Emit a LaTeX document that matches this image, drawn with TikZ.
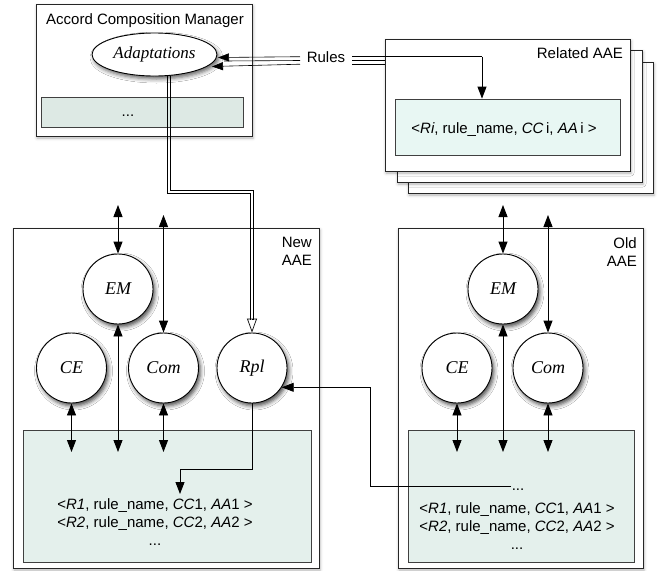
\documentclass[tikz,border=0pt]{standalone}
\usepackage{fontspec}
\setmainfont{Liberation Sans}
\newfontfamily\lserif{Liberation Serif}
\usetikzlibrary{arrows.meta,shapes.geometric,shadows.blur}
\definecolor{accgreen}{RGB}{221,233,228}
\definecolor{relgreen}{RGB}{232,247,243}
\definecolor{aaegreen}{RGB}{228,240,236}
\begin{document}
\begin{tikzpicture}[x=1pt,y=-1pt,font=\fontsize{15}{18}\selectfont,
  outer/.style={draw=black!85,fill=white,line width=0.8pt,
    blur shadow={shadow xshift=1pt,shadow yshift=-2pt,shadow blur radius=3pt,shadow opacity=30}},
  inbox/.style={draw=black!75,line width=0.8pt},
  proc/.style={circle,draw=black,fill=white,line width=0.9pt,minimum size=70pt,inner sep=0pt,
    font=\fontsize{18}{21}\selectfont\lserif\itshape,
    blur shadow={shadow xshift=2pt,shadow yshift=-3pt,shadow blur radius=4pt,shadow opacity=70}},
  txt/.style={inner sep=0pt,anchor=base},
  conn/.style={line width=0.9pt,draw=black},
  arr/.style={conn,-{Triangle[length=12pt,width=9pt]}},
  darr/.style={conn,{Triangle[length=12pt,width=9pt]}-{Triangle[length=12pt,width=9pt]}},
  thinl/.style={line width=0.6pt,draw=black}]
\useasboundingbox (0,0) rectangle (665,571);

% ---- boxes ----
\node[outer,minimum width=216,minimum height=132] (acm) at (144,70) {};
\node[inbox,fill=accgreen,minimum width=202,minimum height=30] (accin) at (142,112) {};
\node[txt] (acmtitle) at (145,24.5) {Accord Composition Manager};
\node[txt] (accdots) at (128,116.5) {...};

\node[outer,minimum width=245,minimum height=131] (rel3) at (530.5,127.5) {};
\node[outer,minimum width=245,minimum height=132] (rel2) at (519.5,116) {};
\node[outer,minimum width=245,minimum height=132] (rel1) at (507.5,105) {};
\node[txt,anchor=base east] (reltitle) at (623,58.5) {Related AAE};
\node[inbox,fill=relgreen,minimum width=225,minimum height=56] (relin) at (507.5,127) {};
\node[txt] (reltext) at (504,133.5) {<\textit{Ri}, rule\_name, \textit{CC}\,i, \textit{AA}\,i >};

\node[outer,minimum width=306,minimum height=340] (newaae) at (166,398) {};
\node[inbox,fill=aaegreen,minimum width=288,minimum height=132] (newin) at (167,496) {};
\node[inner sep=0pt,align=right,anchor=north east] (newtitle) at (312,237) {New\\AAE};
\node[inner sep=0pt,align=center] (newrules) at (155,522) {<\textit{R1}, rule\_name, \textit{CC}1, \textit{AA}1 >\\<\textit{R2}, rule\_name, \textit{CC}2, \textit{AA}2 >\\...};

\node[outer,minimum width=245,minimum height=340] (oldaae) at (520.5,398) {};
\node[inbox,fill=aaegreen,minimum width=226,minimum height=132] (oldin) at (521,496) {};
\node[inner sep=0pt,align=right,anchor=north east] (oldtitle) at (637,237) {Old\\AAE};
\node[txt] (odots) at (518,490) {...};
\node[inner sep=0pt,align=center] (oldrules) at (517,526) {<\textit{R1}, rule\_name, \textit{CC}1, \textit{AA}1 >\\<\textit{R2}, rule\_name, \textit{CC}2, \textit{AA}2 >\\...};

% ---- double line Adaptations -> Rpl ----
\draw[thinl] (167.5,70) |- (250.5,193.5) -- (250.5,319.5);
\draw[thinl] (170.5,70) |- (253.5,190.5) -- (253.5,319.5);

% ---- Rules triple line ----
\node[txt] (rules) at (326,62.5) {Rules};
\coordinate (rbend) at (482,56.7);
\draw[thinl] (352,56.7) -- (rbend);
\draw[arr] (rbend) -- (rbend |- relin.north);
\draw[thinl] (352,60.5) -- (385,60.5);
\draw[thinl] (352,64.2) -- (385,64.2);
\draw[thinl,-{Triangle[length=11pt,width=8pt]}] (300,56.7) -- (218,57.5);
\draw[thinl] (300,60.5) -- (224,61);
\draw[thinl,-{Triangle[length=11pt,width=8pt]}] (300,64.2) -- (212,66.5);

% ---- ellipse ----
\node[ellipse,draw=black,fill=white,line width=0.9pt,minimum width=125,minimum height=43,inner sep=0pt,
  font=\fontsize{17}{20}\selectfont\lserif\itshape,
  blur shadow={shadow xshift=2pt,shadow yshift=-3pt,shadow blur radius=4pt,shadow opacity=60}] (adapt) at (154.5,54.5) {Adaptations};

% ---- New AAE processes ----
\node[proc] (nEM) at (118,289) {EM};
\node[proc] (nCE) at (71.5,368) {CE};
\node[proc] (nCom) at (163.5,368) {Com};
\node[proc] (nRpl) at (252,368) {Rpl};

\draw[conn,line width=0.7pt,-{Triangle[open,length=14pt,width=10pt]}] (252,319) -- (nRpl.north);

\coordinate (nEMtop) at (118,205);
\coordinate (nComtop) at (163.5,215);
\coordinate (nEMbot) at (118,452);
\coordinate (nCEbot) at (71.5,452);
\coordinate (nCombot) at (163.5,452);
\coordinate (nRplbend) at (252,469);
\coordinate (nRpltgt) at (180,494);
\draw[darr] (nEMtop) -- (nEM.north);
\draw[darr] (nComtop) -- (nCom.north);
\draw[darr] (nEM.south) -- (nEMbot);
\draw[darr] (nCE.south) -- (nCEbot);
\draw[darr] (nCom.south) -- (nCombot);
\draw[arr] (nRpl.south) -- (nRplbend) -| (nRpltgt);

% ---- Old AAE processes ----
\node[proc] (oEM) at (503,289) {EM};
\node[proc] (oCE) at (457,368) {CE};
\node[proc] (oCom) at (548,368) {Com};

\coordinate (oEMtop) at (503,205);
\coordinate (oComtop) at (548,215);
\coordinate (oEMbot) at (503,452);
\coordinate (oCEbot) at (457,452);
\coordinate (oCombot) at (548,452);
\draw[darr] (oEMtop) -- (oEM.north);
\draw[darr] (oComtop) -- (oCom.north);
\draw[darr] (oEM.south) -- (oEMbot);
\draw[darr] (oCE.south) -- (oCEbot);
\draw[darr] (oCom.south) -- (oCombot);

% ---- Old -> Rpl ----
\coordinate (oline) at (511,486);
\coordinate (obend) at (370,486);
\draw[arr] (oline) -- (obend) |- (nRpl.-33);
\end{tikzpicture}
\end{document}
